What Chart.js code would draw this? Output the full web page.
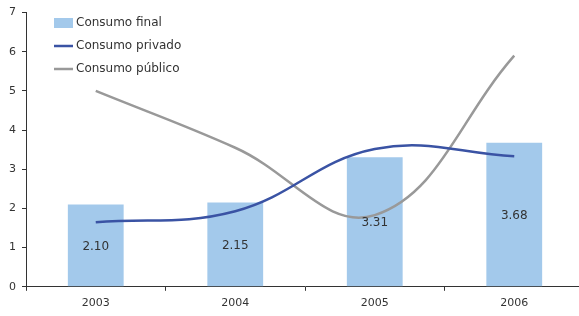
<!DOCTYPE html>
<html>
<head>
<meta charset="utf-8">
<script src="https://cdn.jsdelivr.net/npm/chart.js@4"></script>
<style>
html,body{margin:0;padding:0;background:#fff;overflow:hidden;width:579px;height:316px;}
#wrap{width:585px;height:316px;}
</style>
</head>
<body>
<div id="wrap"><canvas id="c" width="585" height="316"></canvas></div>
<script>
const categories = ['2003', '2004', '2005', '2006'];
const consumoFinal = [2.10, 2.15, 3.31, 3.68];
const consumoPrivado = [1.65, 1.93, 3.52, 3.33];
const consumoPublico = [5.00, 3.55, 1.83, 5.90];
const finalLabels = ['2.10', '2.15', '3.31', '3.68'];
const yTicks = [0, 1, 2, 3, 4, 5, 6, 7];

const FONT = 'DejaVu Sans, Verdana, sans-serif';
const TXT = '#333333';

const barLabels = {
  id: 'barLabels',
  afterDatasetsDraw(chart) {
    const ctx = chart.ctx;
    const meta = chart.getDatasetMeta(0);
    ctx.save();
    ctx.font = '12px ' + FONT;
    ctx.fillStyle = TXT;
    ctx.textAlign = 'center';
    ctx.textBaseline = 'middle';
    meta.data.forEach((bar, i) => {
      const mid = (bar.y + bar.base) / 2 + 1;
      ctx.fillText(finalLabels[i], bar.x, mid);
    });
    ctx.restore();
  }
};

const insideLegend = {
  id: 'insideLegend',
  afterDraw(chart) {
    const ctx = chart.ctx;
    const ds = chart.data.datasets;
    const x0 = 54, x1 = 73, ys = [23, 46, 69];
    ctx.save();
    ctx.font = '12px ' + FONT;
    ctx.fillStyle = TXT;
    ctx.textBaseline = 'middle';
    ds.forEach((d, i) => {
      const y = ys[i];
      if (d.type === 'bar') {
        ctx.fillStyle = d.backgroundColor;
        ctx.fillRect(x0, y - 5, x1 - x0, 10);
      } else {
        ctx.strokeStyle = d.borderColor;
        ctx.lineWidth = 2.5;
        ctx.beginPath();
        ctx.moveTo(x0, y);
        ctx.lineTo(x1, y);
        ctx.stroke();
      }
      ctx.fillStyle = TXT;
      ctx.fillText(d.label, x1 + 3, y);
    });
    ctx.restore();
  }
};

new Chart(document.getElementById('c'), {
  type: 'bar',
  data: {
    labels: categories,
    datasets: [
      { type: 'bar', label: 'Consumo final', data: consumoFinal, backgroundColor: '#A3C9EB',
        barPercentage: 0.8, categoryPercentage: 0.5, order: 3 },
      { type: 'line', label: 'Consumo privado', data: consumoPrivado, borderColor: '#3A53A4',
        borderWidth: 2.5, tension: 0.4, pointRadius: 0, fill: false, order: 1 },
      { type: 'line', label: 'Consumo público', data: consumoPublico, borderColor: '#999999',
        borderWidth: 2.5, tension: 0.4, pointRadius: 0, fill: false, order: 2 }
    ]
  },
  options: {
    responsive: false,
    animation: false,
    devicePixelRatio: 1,
    layout: { padding: { top: 6, left: 0, right: 1, bottom: 0 } },
    plugins: { legend: { display: false }, tooltip: { enabled: false } },
    scales: {
      x: {
        grid: { display: true, drawOnChartArea: false, drawTicks: true, tickLength: 4, color: '#333', offset: true },
        border: { display: true, color: '#333', width: 1 },
        ticks: { font: { family: FONT, size: 11 }, color: TXT, padding: 6 }
      },
      y: {
        min: 0, max: 7,
        afterBuildTicks(scale) { scale.ticks = yTicks.map(v => ({ value: v })); },
        afterFit(scale) { scale.width = 26; },
        grid: { display: true, drawOnChartArea: false, drawTicks: true, tickLength: 4, color: '#333' },
        border: { display: true, color: '#333', width: 1 },
        ticks: { font: { family: FONT, size: 11 }, color: TXT, padding: 6 }
      }
    }
  },
  plugins: [barLabels, insideLegend]
});
</script>
</body>
</html>
